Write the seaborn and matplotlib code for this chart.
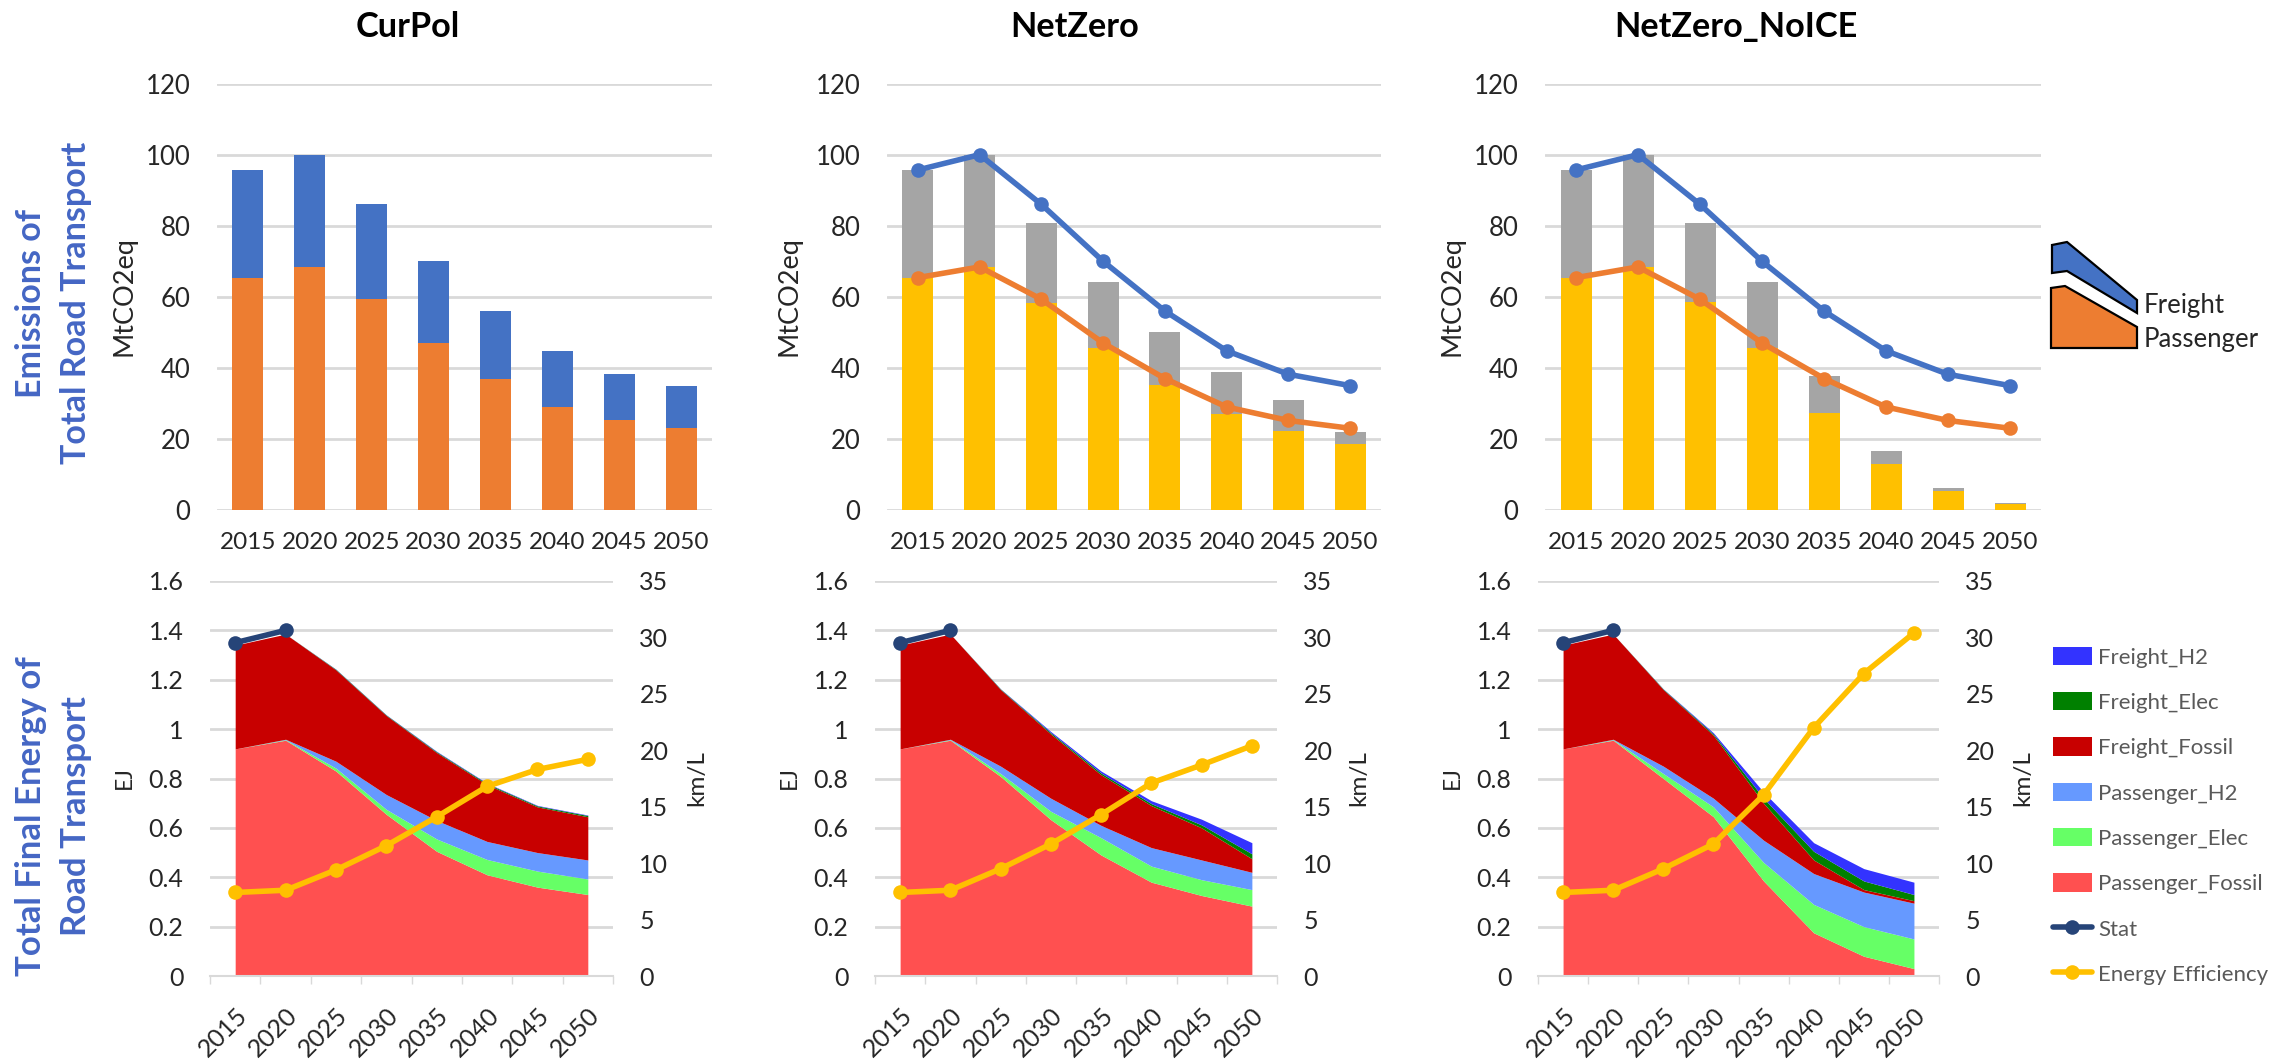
import numpy as np
import pandas as pd
import matplotlib
matplotlib.use("Agg")
import matplotlib.pyplot as plt
from matplotlib.patches import Patch, Polygon
from matplotlib.lines import Line2D
from matplotlib.transforms import Affine2D
import seaborn as sns

years = [2015, 2020, 2025, 2030, 2035, 2040, 2045, 2050]
scenarios = ["CurPol", "NetZero", "NetZero_NoICE"]

freight_total_ref = [95.7, 100, 86, 70, 56, 44.8, 38.2, 35]
passenger_ref = [65.4, 68.4, 59.3, 47, 37, 29, 25.2, 23]
nz_total = [95.7, 100, 80.7, 64.2, 50.2, 38.7, 31, 22]
nz_pass = [65.4, 68.4, 58.2, 45.7, 35.3, 27, 22.3, 18.5]
ni_total = [95.7, 100, 80.7, 64.2, 37.7, 16.7, 6.2, 2.0]
ni_pass = [65.4, 68.4, 58.5, 45.7, 27.3, 12.9, 5.3, 1.7]

stat = [1.35, 1.40]
cp_pf = [.92, .955, .83, .655, .505, .41, .36, .33]
cp_pe = [0, .002, .012, .02, .05, .062, .065, .063]
cp_ph = [0, .002, .028, .06, .075, .073, .075, .077]
cp_ff = [.42, .426, .37, .32, .275, .23, .185, .175]
cp_fe = [0, 0, .002, .002, .003, .004, .004, .005]
cp_fh = [0, 0, .001, .001, .002, .002, .002, .002]
nz_pf = [.92, .955, .808, .633, .49, .38, .326, .283]
nz_pe = [0, .002, .012, .034, .07, .065, .064, .067]
nz_ph = [0, .002, .03, .053, .05, .075, .08, .07]
nz_ff = [.42, .426, .31, .26, .205, .17, .13, .055]
nz_fe = [0, 0, .002, .005, .007, .008, .012, .02]
nz_fh = [0, 0, .001, .005, .008, .012, .023, .045]
ni_pf = [.92, .955, .80, .645, .385, .175, .08, .03]
ni_pe = [0, .002, .02, .04, .075, .115, .12, .12]
ni_ph = [0, .002, .03, .035, .09, .125, .14, .145]
ni_ff = [.42, .426, .31, .255, .15, .055, .01, .01]
ni_fe = [0, 0, .002, .005, .02, .035, .035, .025]
ni_fh = [0, 0, .001, .005, .025, .035, .05, .05]
cp_eff = [7.4, 7.6, 9.4, 11.55, 14.1, 16.8, 18.3, 19.2]
nz_eff = [7.4, 7.6, 9.5, 11.7, 14.3, 17.1, 18.7, 20.4]
ni_eff = [7.4, 7.6, 9.5, 11.7, 16.05, 22.0, 26.8, 30.4]

y_top_ticks = [0, 20, 40, 60, 80, 100, 120]
y_bot_ticks = [0, .2, .4, .6, .8, 1, 1.2, 1.4, 1.6]
y_bot_labels = ["0", "0.2", "0.4", "0.6", "0.8", "1", "1.2", "1.4", "1.6"]
y_eff_ticks = [0, 5, 10, 15, 20, 25, 30, 35]
layer_names = ["Passenger_Fossil", "Passenger_Elec", "Passenger_H2", "Freight_Fossil", "Freight_Elec", "Freight_H2"]
layer_colors = ["#FF5050", "#66FF66", "#6699FF", "#C80000", "#008000", "#3333FF"]

BLUE, ORANGE, GREY, GOLD, NAVY = "#4472C4", "#ED7D31", "#A5A5A5", "#FFC000", "#264478"
GRID, TXT = "#D9D9D9", "#262626"
LW, MS = 4, 10.5

sns.set_theme(style="white")
plt.rcParams["font.family"] = ["Lato", "DejaVu Sans"]
W, H = 2275, 1061
fig = plt.figure(figsize=(W / 100, H / 100), dpi=100, facecolor="white")


def px_axes(x0, x1, ytop, ybot):
    return fig.add_axes([x0 / W, 1 - ybot / H, (x1 - x0) / W, (ybot - ytop) / H])


def ftext(x, y, s, **kw):
    kw.setdefault("ha", "center")
    kw.setdefault("va", "center")
    fig.text(x / W, 1 - y / H, s, **kw)


xpos = np.arange(len(years))
top_boxes = [(217, 712), (887, 1381), (1545, 2041)]
bot_boxes = [(210, 613), (875, 1277), (1538, 1939)]
top_data = [(freight_total_ref, passenger_ref), (nz_total, nz_pass), (ni_total, ni_pass)]
bot_data = [
    (cp_pf, cp_pe, cp_ph, cp_ff, cp_fe, cp_fh, cp_eff),
    (nz_pf, nz_pe, nz_ph, nz_ff, nz_fe, nz_fh, nz_eff),
    (ni_pf, ni_pe, ni_ph, ni_ff, ni_fe, ni_fh, ni_eff),
]
title_x = [408, 1075, 1736]
ylab_x = [124, 789, 1452]
kml_x = [697, 1359, 2023]

for i in range(3):
    # ---------- emissions ----------
    ax = px_axes(top_boxes[i][0], top_boxes[i][1], 83.6, 510)
    total, lower = top_data[i]
    upper_c, lower_c = (BLUE, ORANGE) if i == 0 else (GREY, GOLD)
    df = pd.DataFrame({"year": years, "total": total, "lower": lower})
    sns.barplot(data=df, x="year", y="total", color=upper_c, saturation=1, width=.5,
                linewidth=0, errorbar=None, ax=ax, zorder=2)
    sns.barplot(data=df, x="year", y="lower", color=lower_c, saturation=1, width=.5,
                linewidth=0, errorbar=None, ax=ax, zorder=2)
    if i > 0:
        sns.lineplot(x=xpos, y=freight_total_ref, color=BLUE, linewidth=LW, marker="o", markersize=MS,
                     markeredgewidth=0, ax=ax, zorder=4, errorbar=None)
        sns.lineplot(x=xpos, y=passenger_ref, color=ORANGE, linewidth=LW, marker="o", markersize=MS,
                     markeredgewidth=0, ax=ax, zorder=4, errorbar=None)
    ax.set_xlim(-.5, 7.5)
    ax.set_ylim(0, 120)
    ax.set_yticks(y_top_ticks)
    ax.set_xticks(xpos)
    ax.set_xticklabels(years)
    ax.set_xlabel("")
    ax.set_ylabel("")
    ax.yaxis.grid(True, color=GRID, linewidth=2)
    ax.xaxis.grid(False)
    ax.set_axisbelow(True)
    ax.tick_params(axis="both", length=0, labelcolor=TXT)
    ax.tick_params(axis="y", pad=19, labelsize=18.5)
    ax.tick_params(axis="x", pad=16, labelsize=17.5)
    for s in ax.spines.values():
        s.set_visible(False)
    ftext(title_x[i], 27, scenarios[i], fontsize=24.7, fontweight="bold", color="black")
    ftext(ylab_x[i], 296, "MtCO2eq", fontsize=19.5, rotation=90, color=TXT)

    # ---------- energy ----------
    ax = px_axes(bot_boxes[i][0], bot_boxes[i][1], 581, 976)
    d = bot_data[i]
    ax.stackplot(xpos, d[0], d[1], d[2], d[3], d[4], d[5], colors=layer_colors, linewidth=0, zorder=2)
    sns.lineplot(x=xpos[:2], y=stat, color=NAVY, linewidth=LW, marker="o", markersize=MS,
                 markeredgewidth=0, ax=ax, zorder=5, errorbar=None)
    ax.set_xlim(-.5, 7.5)
    ax.set_ylim(0, 1.6)
    ax.set_yticks(y_bot_ticks)
    ax.set_yticklabels(y_bot_labels)
    ax.set_xticks(xpos)
    ax.set_xticklabels(years, rotation=45, ha="right", rotation_mode="anchor")
    ax.set_xticks(np.arange(-.5, 8, 1), minor=True)
    ax.yaxis.grid(True, color=GRID, linewidth=2)
    ax.xaxis.grid(False)
    ax.set_axisbelow(True)
    ax.tick_params(axis="y", length=0, labelsize=18, labelcolor=TXT, pad=19)
    ax.tick_params(axis="x", which="major", length=0, labelsize=18, labelcolor=TXT, pad=20)
    ax.tick_params(axis="x", which="minor", length=6, width=1, color=GRID, bottom=True)
    for k, s in ax.spines.items():
        s.set_visible(k == "bottom")
    ax.spines["bottom"].set_color(GRID)
    ax.spines["bottom"].set_linewidth(1.5)
    ftext(ylab_x[i], 778, "EJ", fontsize=16.5, rotation=90, color=TXT)

    ax2 = ax.twinx()
    sns.lineplot(x=xpos, y=d[6], color=GOLD, linewidth=LW, marker="o", markersize=MS,
                 markeredgewidth=0, ax=ax2, zorder=5, errorbar=None)
    ax2.set_ylim(0, 35)
    ax2.set_yticks(y_eff_ticks)
    ax2.set_ylabel("")
    ax2.grid(False)
    ax2.tick_params(axis="y", length=0, labelsize=18, labelcolor=TXT, pad=19)
    for s in ax2.spines.values():
        s.set_visible(False)
    ftext(kml_x[i], 778, "km/L", fontsize=17.5, rotation=90, color=TXT)

# ---------- row headings ----------
ROW = "#4466C4"
ftext(31, 303, "Emissions of", fontsize=24.5, fontweight="bold", color=ROW, rotation=90)
ftext(76, 303, "Total Road Transport", fontsize=24.5, fontweight="bold", color=ROW, rotation=90)
ftext(31, 816, "Total Final Energy of", fontsize=25, fontweight="bold", color=ROW, rotation=90)
ftext(76, 816, "Road Transport", fontsize=25, fontweight="bold", color=ROW, rotation=90)

# ---------- legend ----------
handles = [Patch(facecolor=c, edgecolor="none") for c in layer_colors[::-1]]
labels = layer_names[::-1]
handles += [Line2D([], [], color=NAVY, linewidth=LW, marker="o", markersize=MS, markeredgewidth=0),
            Line2D([], [], color=GOLD, linewidth=LW, marker="o", markersize=MS, markeredgewidth=0)]
labels += ["Stat", "Energy Efficiency"]
leg = fig.legend(handles, labels, loc="upper left", bbox_to_anchor=(2046 / W, 1 - 640 / H),
                 frameon=False, fontsize=16, labelcolor="#595959", handlelength=1.75, handleheight=.9,
                 handletextpad=.3, labelspacing=1.1, borderpad=.3, borderaxespad=0)

# ---------- freight / passenger key ----------
to_fig = Affine2D().scale(1 / W, -1 / H).translate(0, 1) + fig.transFigure
blue_shape = [(2052, 245), (2067, 242), (2137, 300), (2137, 313), (2067, 271), (2052, 273)]
orange_shape = [(2051, 288), (2065, 286), (2137, 327), (2137, 348), (2051, 348)]
fig.add_artist(Polygon(blue_shape, closed=True, facecolor=BLUE, edgecolor="black", linewidth=1.6, transform=to_fig))
fig.add_artist(Polygon(orange_shape, closed=True, facecolor=ORANGE, edgecolor="black", linewidth=1.6, transform=to_fig))
ftext(2144, 305, "Freight", fontsize=18.5, ha="left", color=TXT)
ftext(2144, 340, "Passenger", fontsize=18.5, ha="left", color=TXT)

fig.savefig("out.png", dpi=100)
